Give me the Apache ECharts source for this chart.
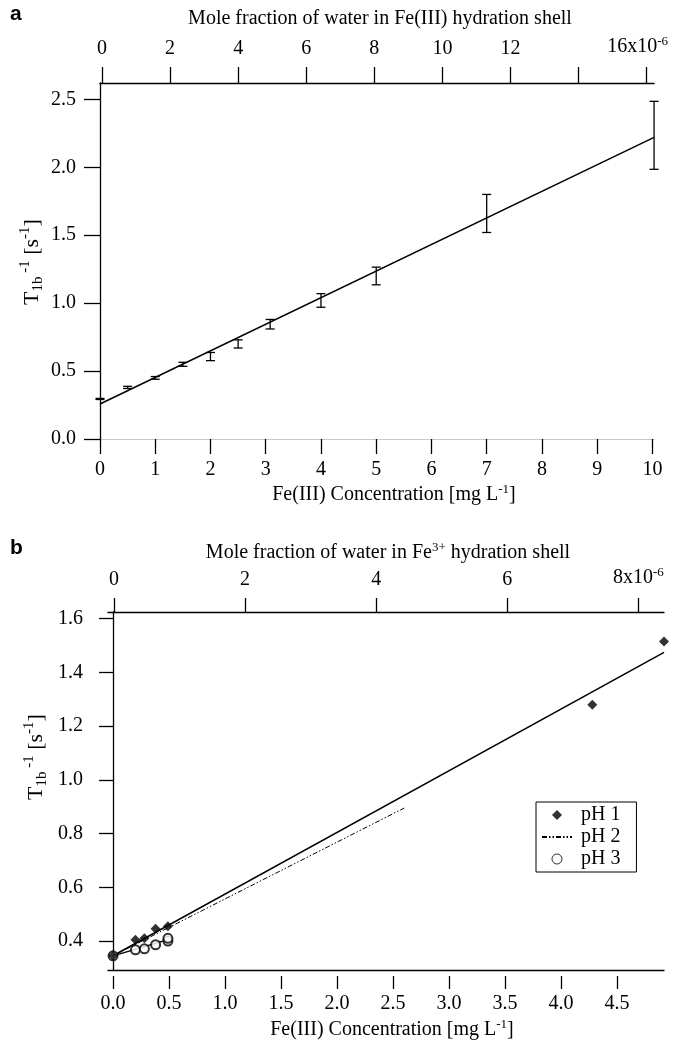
<!DOCTYPE html>
<html><head><meta charset="utf-8">
<script src="https://cdn.jsdelivr.net/npm/echarts@6/dist/echarts.min.js"></script>
<style>html,body{margin:0;padding:0;background:#fff}#c{width:680px;height:1043px}</style>
</head><body><div id="c"></div>
<script>
// ---------- Panel a data ----------
const aConc = [0, 0.5, 1, 1.5, 2, 2.5, 3.08, 4, 5, 7, 10.03];
const aRate = [0.295, 0.38, 0.45, 0.55, 0.607, 0.70, 0.845, 1.02, 1.20, 1.66, 2.235];
const aErr  = [0.004, 0.008, 0.01, 0.015, 0.03, 0.03, 0.035, 0.05, 0.065, 0.14, 0.25];
const aFitConc = [0, 10.03];
const aFitRate = [0.258, 2.22];
const aBottomTicks = [0, 1, 2, 3, 4, 5, 6, 7, 8, 9, 10];
const aLeftTicks = [0, 0.5, 1.0, 1.5, 2.0, 2.5];
const aTopTicks = [0, 2, 4, 6, 8, 10, 12, 14, 16];
const aTopLabels = ['0', '2', '4', '6', '8', '10', '12', '', '{n|16x10}{sup|-6}{pad|}'];

// ---------- Panel b data ----------
const pH1Conc = [0, 0.2, 0.28, 0.38, 0.49, 4.28, 4.92];
const pH1Rate = [0.345, 0.405, 0.41, 0.446, 0.455, 1.28, 1.515];
const pH1FitConc = [0, 4.92];
const pH1FitRate = [0.345, 1.475];
const pH2FitConc = [0, 2.6];
const pH2FitRate = [0.345, 0.895];
const pH3Conc = [0, 0.2, 0.28, 0.38, 0.49, 0.49];
const pH3Rate = [0.345, 0.367, 0.371, 0.386, 0.40, 0.41];
const pH3FitConc = [0, 0.49];
const pH3FitRate = [0.345, 0.405];
const bBottomTicks = [0, 0.5, 1.0, 1.5, 2.0, 2.5, 3.0, 3.5, 4.0, 4.5];
const bLeftTicks = [0.4, 0.6, 0.8, 1.0, 1.2, 1.4, 1.6];
const bTopTicks = [0, 2, 4, 6, 8];
const bTopLabels = ['0', '2', '4', '6', '{n|8x10}{sup|-6}'];

// ---------- styling ----------
const SERIF = 'Liberation Serif';
const BLACK = '#000';
const rich = {
  n:   {fontFamily: SERIF, fontSize: 20, lineHeight: 24, color: BLACK},
  sup: {fontFamily: SERIF, fontSize: 13, lineHeight: 13, verticalAlign: 'top', color: BLACK},
  sub: {fontFamily: SERIF, fontSize: 13, lineHeight: 13, verticalAlign: 'bottom', color: BLACK},
  pad: {width: 18}
};
const richY = {
  n:   {fontFamily: SERIF, fontSize: 22, lineHeight: 28, color: BLACK},
  sup: {fontFamily: SERIF, fontSize: 15, lineHeight: 15, verticalAlign: 'top', color: BLACK},
  sub: {fontFamily: SERIF, fontSize: 15, lineHeight: 15, verticalAlign: 'bottom', color: BLACK}
};
const axLine = {show: true, lineStyle: {color: BLACK, width: 1.3}};
function tickCfg(vals, len) {
  return {show: true, inside: false, length: len, customValues: vals, lineStyle: {color: BLACK, width: 1.3}};
}
function labelCfg(vals, fmt, margin) {
  return {show: true, customValues: vals, formatter: fmt, margin: margin,
          fontFamily: SERIF, fontSize: 20, color: BLACK, rich: rich};
}
const zip = (xs, ys) => xs.map((x, i) => [x, ys[i]]);

function errRender(params, api) {
  const x = api.value(0), y = api.value(1), e = api.value(2);
  const t = api.coord([x, y + e]), b = api.coord([x, y - e]);
  const hw = 4.5;
  const st = {stroke: BLACK, lineWidth: 1.3};
  return {type: 'group', children: [
    {type: 'line', shape: {x1: t[0], y1: t[1], x2: b[0], y2: b[1]}, style: st},
    {type: 'line', shape: {x1: t[0] - hw, y1: t[1], x2: t[0] + hw, y2: t[1]}, style: st},
    {type: 'line', shape: {x1: b[0] - hw, y1: b[1], x2: b[0] + hw, y2: b[1]}, style: st}
  ]};
}

const option = {
  backgroundColor: '#fff',
  animation: false,
  grid: [
    {left: 100, top: 83, width: 558, height: 357},
    {left: 108, top: 612, width: 556, height: 358}
  ],
  xAxis: [
    // a bottom
    {gridIndex: 0, type: 'value', position: 'bottom', min: 0, max: 10.03,
     axisLine: {show: true, lineStyle: {color: '#c8c8c8', width: 1}},
     axisTick: tickCfg(aBottomTicks, 15),
     axisLabel: labelCfg(aBottomTicks, v => String(v), 20),
     splitLine: {show: false}},
    // a top
    {gridIndex: 0, type: 'value', position: 'top', min: -0.06, max: 16.22,
     axisLine: axLine,
     axisTick: tickCfg(aTopTicks, 16),
     axisLabel: labelCfg(aTopTicks, v => aTopLabels[aTopTicks.indexOf(v)] ?? '', 24),
     splitLine: {show: false}},
    // b bottom (offset ticks)
    {gridIndex: 1, type: 'value', position: 'bottom', offset: 6, min: -0.045, max: 4.92,
     axisLine: {show: false},
     axisTick: tickCfg(bBottomTicks, 13),
     axisLabel: labelCfg(bBottomTicks, v => v.toFixed(1), 18),
     splitLine: {show: false}},
    // b top
    {gridIndex: 1, type: 'value', position: 'top', min: -0.09, max: 8.39,
     axisLine: axLine,
     axisTick: tickCfg(bTopTicks, 14),
     axisLabel: labelCfg(bTopTicks, v => bTopLabels[bTopTicks.indexOf(v)] ?? '', 22),
     splitLine: {show: false}},
    // b bottom frame line
    {gridIndex: 1, type: 'value', position: 'bottom', offset: 0, min: -0.045, max: 4.92,
     axisLine: axLine, axisTick: {show: false}, axisLabel: {show: false}, splitLine: {show: false}}
  ],
  yAxis: [
    {gridIndex: 0, type: 'value', min: -0.007, max: 2.62,
     axisLine: axLine,
     axisTick: tickCfg(aLeftTicks, 16),
     axisLabel: labelCfg(aLeftTicks, v => v.toFixed(1), 24),
     splitLine: {show: false}},
    {gridIndex: 1, type: 'value', min: 0.292, max: 1.625,
     axisLine: axLine,
     axisTick: tickCfg(bLeftTicks, 14),
     axisLabel: labelCfg(bLeftTicks, v => v.toFixed(1), 25),
     splitLine: {show: false}}
  ],
  legend: {
    orient: 'vertical', left: 536, top: 802,
    data: [
      {name: 'pH 1', icon: 'path://M5 0L10 5L5 10L0 5Z', itemStyle: {color: BLACK}},
      {name: 'pH 2', itemStyle: {color: 'rgba(0,0,0,0)', opacity: 0}},
      {name: 'pH 3', icon: 'path://M5 0A5 5 0 1 1 4.99 0Z', itemStyle: {color: '#fff', borderColor: BLACK, borderWidth: 1}}
    ],
    itemWidth: 30, itemHeight: 10, itemGap: 2, symbolKeepAspect: true,
    borderColor: BLACK, borderWidth: 1, padding: [3, 16, 3, 5],
    textStyle: {fontFamily: SERIF, fontSize: 20, color: BLACK, padding: [0, 0, 0, 4]}
  },
  series: [
    {type: 'custom', name: 'a-err', xAxisIndex: 0, yAxisIndex: 0,
     renderItem: errRender, data: aConc.map((x, i) => [x, aRate[i], aErr[i]]), z: 3},
    {type: 'line', name: 'a-fit', xAxisIndex: 0, yAxisIndex: 0, symbol: 'none',
     lineStyle: {color: BLACK, width: 1.5}, data: zip(aFitConc, aFitRate)},
    {type: 'line', name: 'pH1-fit', xAxisIndex: 2, yAxisIndex: 1, symbol: 'none',
     lineStyle: {color: BLACK, width: 1.5}, data: zip(pH1FitConc, pH1FitRate)},
    {type: 'line', name: 'pH 2', xAxisIndex: 2, yAxisIndex: 1, symbol: 'none',
     itemStyle: {color: BLACK},
     lineStyle: {color: BLACK, width: 1, type: [5, 2, 1.5, 2, 1.5, 2]}, data: zip(pH2FitConc, pH2FitRate)},
    {type: 'line', name: 'pH3-fit', xAxisIndex: 2, yAxisIndex: 1, symbol: 'none',
     lineStyle: {color: BLACK, width: 1.3}, data: zip(pH3FitConc, pH3FitRate)},
    {type: 'scatter', name: 'pH 3', xAxisIndex: 2, yAxisIndex: 1, symbol: 'emptyCircle', symbolSize: 9,
     itemStyle: {color: BLACK, borderColor: BLACK, borderWidth: 1}, data: zip(pH3Conc, pH3Rate), z: 4},
    {type: 'scatter', name: 'pH 1', xAxisIndex: 2, yAxisIndex: 1, symbol: 'diamond', symbolSize: 10,
     itemStyle: {color: BLACK}, data: zip(pH1Conc, pH1Rate), z: 5}
  ],
  graphic: [
    {type: 'text', x: 10, y: 4, style: {text: 'a', font: 'bold 21px "Liberation Sans"', fill: BLACK}},
    {type: 'text', x: 10, y: 538, style: {text: 'b', font: 'bold 21px "Liberation Sans"', fill: BLACK}},
    {type: 'text', x: 380, y: 19, style: {text: 'Mole fraction of water in Fe(III) hydration shell',
      font: '20px "Liberation Serif"', fill: BLACK, textAlign: 'center', textVerticalAlign: 'middle'}},
    {type: 'text', x: 394, y: 495, style: {text: '{n|Fe(III) Concentration [mg L}{sup|-1}{n|]}', rich: rich,
      textAlign: 'center', textVerticalAlign: 'middle'}},
    {type: 'text', x: 32, y: 262, rotation: Math.PI / 2, style: {text: '{n|T}{sub|1b}{sup| -1}{n| [s}{sup|-1}{n|]}', rich: richY,
      textAlign: 'center', textVerticalAlign: 'middle'}},
    {type: 'text', x: 388, y: 553, style: {text: '{n|Mole fraction of water in Fe}{sup|3+}{n| hydration shell}', rich: rich,
      textAlign: 'center', textVerticalAlign: 'middle'}},
    {type: 'text', x: 392, y: 1030, style: {text: '{n|Fe(III) Concentration [mg L}{sup|-1}{n|]}', rich: rich,
      textAlign: 'center', textVerticalAlign: 'middle'}},
    {type: 'text', x: 36, y: 757, rotation: Math.PI / 2, style: {text: '{n|T}{sub|1b}{sup| -1}{n| [s}{sup|-1}{n|]}', rich: richY,
      textAlign: 'center', textVerticalAlign: 'middle'}}
  ]
};
const chart = echarts.init(document.getElementById('c'));
chart.setOption(option);
</script></body></html>
